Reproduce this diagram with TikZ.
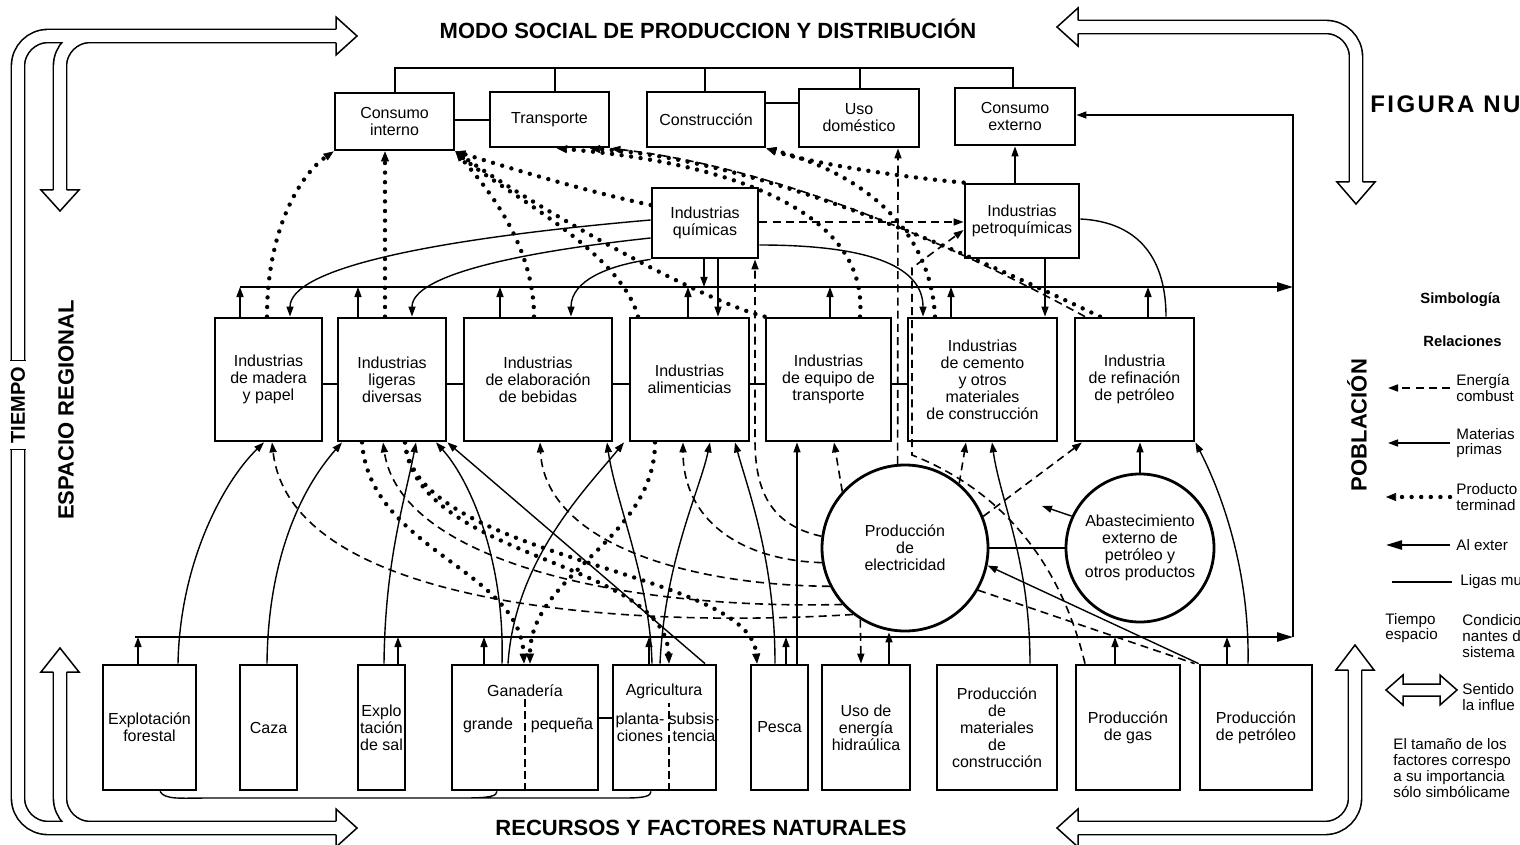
\documentclass[tikz,border=0pt]{standalone}
\usepackage{fontspec}
\setmainfont{Liberation Sans}
\usetikzlibrary{arrows.meta}

\begin{document}
\begin{tikzpicture}[
    x=0.5pt, y=-0.5pt,
    font=\fontsize{8}{8.5}\selectfont,
    box/.style   ={draw, line width=1.4pt, inner sep=0pt, align=center},
    ring/.style  ={draw, circle, line width=1.4pt, inner sep=0pt, align=center},
    lnk/.style   ={line width=0.7pt},
    mp/.style    ={lnk, -{Triangle[length=5pt,width=3.5pt]}},
    enl/.style   ={line width=0.8pt, dash pattern=on 4pt off 2.6pt},
    en/.style    ={enl, -{Triangle[length=5pt,width=3.5pt]}},
    ptl/.style   ={line width=2.2pt, line cap=round, dash pattern=on 0pt off 4.8pt},
    pt/.style    ={ptl, -{Triangle[length=5pt,width=4pt,line width=0.3pt]}},
    ext/.style   ={line width=1pt, -{Triangle[length=8pt,width=4.6pt]}},
    band/.style  ={line width=5.8pt, white, line cap=butt, rounded corners=15pt,
                   preaction={draw, black, line width=7.4pt}},
    head/.style  ={fill=white, draw, line width=0.75pt, line join=miter},
    big/.style   ={font=\bfseries\fontsize{11}{12}\selectfont},
    leg/.style   ={font=\fontsize{7.6}{7.9}\selectfont, align=left, inner sep=0pt},
]
\useasboundingbox (0,0) rectangle (1520,845);

% =============== Influence frame (hollow arrows) ===============
\draw[band] (338,36) -- (18,36) -- (18,828) -- (338,828)
            (60,192) -- (60,36) -- (110,36)
            (60,670) -- (60,828) -- (110,828);
\filldraw[head] (336,29.4) -- (336,17) -- (357,36) -- (336,55) -- (336,42.6);
\filldraw[head] (53.4,190) -- (41,190) -- (60,211) -- (79,190) -- (66.6,190);
\filldraw[head] (53.4,672) -- (41,672) -- (60,648) -- (79,672) -- (66.6,672);
\filldraw[head] (336,821.4) -- (336,809) -- (357,828) -- (336,847) -- (336,834.6);

\draw[band] (1076,27) -- (1356,27) -- (1356,184);
\filldraw[head] (1078,20.4) -- (1078,8) -- (1057,27) -- (1078,46) -- (1078,33.6);
\filldraw[head] (1349.4,182) -- (1337,182) -- (1356,204) -- (1375,182) -- (1362.6,182);

\draw[band] (1076,828) -- (1355,828) -- (1355,668);
\filldraw[head] (1078,821.4) -- (1078,809) -- (1057,828) -- (1078,847) -- (1078,834.6);
\filldraw[head] (1348.4,670) -- (1336,670) -- (1355,645) -- (1374,670) -- (1361.6,670);

\node[rotate=90, fill=white, inner sep=0pt, inner xsep=3pt, minimum height=7.8pt,
      font=\bfseries\fontsize{10}{11}\selectfont] (tiempo) at (18,405) {TIEMPO};
\draw[line width=0.75pt] (tiempo.north east) -- (tiempo.south east)
                         (tiempo.north west) -- (tiempo.south west);

% =============== Frame labels ===============
\node[big] (ttlTop) at (708,29) {MODO SOCIAL DE PRODUCCION Y DISTRIBUCIÓN};
\node[big] (ttlBot) at (701,828) {RECURSOS Y FACTORES NATURALES};
\node[big, rotate=90] (espacio) at (66,410) {ESPACIO REGIONAL};
\node[big, rotate=90] (pobl) at (1357,425) {POBLACIÓN};
\node[font=\bfseries\fontsize{12}{13}\selectfont\addfontfeature{LetterSpace=10},
      anchor=west, inner sep=0pt] (figura) at (1370,104) {FIGURA NU};

% =============== Consumption row ===============
\node[box, minimum width=59.5pt, minimum height=28.5pt] (cint)   at (394.5,121.5) {Consumo\\interno};
\node[box, minimum width=59.5pt, minimum height=27.5pt] (trans)  at (549.5,119.5) {Transporte};
\node[box, minimum width=59pt,   minimum height=27.5pt] (constr) at (706,119.5)   {Construcción};
\node[box, minimum width=60pt,   minimum height=29pt]   (uso)    at (859,118)     {Uso\\doméstico};
\node[box, minimum width=60pt,   minimum height=28.5pt] (cext)   at (1015,116.5)  {Consumo\\externo};

% =============== Chemical industries ===============
\node[box, minimum width=53pt, minimum height=35pt] (quim)  at (705,223)  {Industrias\\químicas};
\node[box, minimum width=57pt, minimum height=37pt] (petro) at (1022,221) {Industrias\\petroquímicas};

% =============== Industry row ===============
\begin{scope}[every node/.append style={minimum height=61.5pt}]
\node[box, minimum width=53.5pt] (mad)   at (268.5,379.5)  {Industrias\\de madera\\y papel};
\node[box, minimum width=54pt]   (lig)   at (392,379.5)    {Industrias\\ligeras\\diversas};
\node[box, minimum width=74pt]   (beb)   at (538,379.5)    {Industrias\\de elaboración\\de bebidas};
\node[box, minimum width=59.5pt] (alim)  at (689.5,379.5)  {Industrias\\alimenticias};
\node[box, minimum width=62.5pt] (equip) at (828.5,379.5)  {Industrias\\de equipo de\\transporte};
\node[box, minimum width=74.5pt] (cem)   at (982.5,379.5)  {Industrias\\de cemento\\y otros\\materiales\\de construcción};
\node[box, minimum width=59.5pt] (refin) at (1134.5,379.5) {Industria\\de refinación\\de petróleo};
\end{scope}

% =============== Energy circles ===============
\node[ring, minimum size=83pt] (elec)  at (905,548)  {Producción\\de\\electricidad};
\node[ring, minimum size=74pt] (abast) at (1140,548) {Abastecimiento\\externo de\\petróleo y\\otros productos};

% =============== Natural resources row ===============
\begin{scope}[every node/.append style={minimum height=62.5pt}]
\node[box, minimum width=46.5pt] (forest) at (149.5,727.5) {Explotación\\forestal};
\node[box, minimum width=28.5pt] (caza)   at (268.5,727.5) {Caza};
\node[box, minimum width=23.5pt] (sal)    at (381.5,727.5) {Explo\\tación\\de sal};
\node[box, minimum width=73pt]   (gan)    at (525,727.5)   {};
\node[box, minimum width=51.5pt] (agr)    at (664.5,727.5) {};
\node[box, minimum width=28.5pt] (pesca)  at (779.5,727.5) {Pesca};
\node[box, minimum width=44pt]   (hidro)  at (866,727.5)   {Uso de\\energía\\hidraúlica};
\node[box, minimum width=60pt]   (mater)  at (997,727.5)   {Producción\\de\\materiales\\de\\construcción};
\node[box, minimum width=52pt]   (gas)    at (1128,727.5)  {Producción\\de gas};
\node[box, minimum width=56pt]   (petrol) at (1256,727.5)  {Producción\\de petróleo};
\end{scope}

\node (ganT) at (525,691) {Ganadería};
\node (ganA) at (488,725) {grande};
\node (ganB) at (562,725) {pequeña};
\node (agrT) at (664,691) {Agricultura};
\node[align=center, inner sep=0pt] (agrA) at (640,727) {planta-\\ciones};
\node[align=center, inner sep=0pt] (agrB) at (694,727) {subsis-\\tencia};
\draw[line width=0.75pt, dash pattern=on 4pt off 2pt] (gan.south -| 525,0) -- ++(0,-92);
\draw[line width=0.75pt, dash pattern=on 4pt off 2pt] (agr.south -| 669,0) -- ++(0,-88);

% =============== Mutual links ===============
\coordinate (tbus) at (395,68);
\draw[lnk] (cint.north -| tbus) -- (tbus) -- (1013,68) -- (cext.north -| 1013,0);
\foreach \n/\x in {trans/555, constr/705, uso/860}{%
  \draw[lnk] (\n.north -| \x,0) -- (tbus -| \x,0);
}
\draw[lnk] (cint.east |- 0,120) -- (trans.west |- 0,120);
\draw[lnk] (constr.east |- 0,103) -- (uso.west |- 0,103);
\foreach \a/\b in {mad/lig, lig/beb, beb/alim, alim/equip, equip/cem}{%
  \draw[lnk] (\a.east |- 0,384) -- (\b.west |- 0,384);
}
\draw[lnk] (gan.east |- 0,718) -- (agr.west |- 0,718);
\draw[lnk] (forest.south -| 160,0) .. controls (165,800) and (180,798) .. (210,798)
           -- (465,798) .. controls (490,798) and (497,796) .. (gan.south -| 497,0)
           (465,798) -- (625,798) .. controls (645,798) and (651,796) .. (agr.south -| 651,0);
\draw[lnk] (elec) -- (abast);

% =============== Buses to the exterior ===============
\coordinate (ubus)  at (240,287);
\coordinate (ubusR) at (1293,287);
\coordinate (lbus)  at (135,637);
\coordinate (lbusR) at (1293,637);
\draw[ext] (ubus) -- (ubusR);
\draw[ext] (lbus) -- (lbusR);
\draw[mp] (lbusR) -- (1293,115) -- (cext.east |- 0,115);

\foreach \n/\x in {mad/240, lig/358, beb/500, alim/688, equip/830, cem/951, refin/1148}{%
  \draw[mp] (\n.north -| \x,0) -- (ubus -| \x,0);
}
\foreach \n/\x in {forest/138, sal/398, gan/484, agr/649, pesca/786, gas/1115, petrol/1227}{%
  \draw[mp] (\n.north -| \x,0) -- (lbus -| \x,0);
}

% =============== Raw materials ===============
\draw[mp] (quim.south -| 704,0) -- (ubus -| 704,0);
\draw[mp] (quim.south -| 718,0) -- (alim.north -| 718,0);
\draw[mp] (petro.south -| 1045,0) -- (cem.north -| 1045,0);
\draw[mp] (petro.north -| 1015,0) -- (cext.south -| 1015,0);
\draw[mp] (quim.west |- 0,220) .. controls (420,240) and (290,270) .. (mad.north -| 290,0);
\draw[mp] (quim.west |- 0,238) .. controls (520,252) and (412,275) .. (lig.north -| 412,0);
\draw[mp] (quim.south west) .. controls (610,265) and (571,280) .. (beb.north -| 571,0);
\draw[mp] (quim.east |- 0,245) .. controls (890,245) and (923,275) .. (cem.north -| 923,0);
\draw[lnk] (petro.east |- 0,219) .. controls (1140,222) and (1166,260) .. (refin.north -| 1166,0);

\draw[mp] (forest.north -| 178,0) .. controls (180,560) and (225,480) .. (mad.south -| 264,0);
\draw[mp] (caza.north -| 267,0) .. controls (268,560) and (300,490) .. (lig.south -| 342,0);
\draw[mp] (sal.north -| 384,0) .. controls (385,560) and (405,500) .. (lig.south -| 416,0);
\draw[mp] (gan.north -| 502,0) .. controls (505,560) and (470,480) .. (lig.south -| 436,0);
\draw[mp] (gan.north -| 508,0) .. controls (515,560) and (585,490) .. (alim.south -| 624,0);
\draw[mp] (agr.north -| 705,0) -- (lig.south east);
\draw[mp] (agr.north -| 652,0) .. controls (650,580) and (615,500) .. (beb.south -| 607,0);
\draw[mp] (agr.north -| 660,0) .. controls (665,560) and (700,490) .. (alim.south -| 710,0);
\draw[mp] (pesca.north -| 775,0) .. controls (775,560) and (748,490) .. (alim.south -| 735,0);
\draw[mp] (pesca.north -| 797,0) -- (equip.south -| 797,0);
\draw[mp] (hidro.north -| 889,0) -- (elec.south -| 889,0);
\draw[mp] (mater.north -| 1030,0) .. controls (1030,560) and (1000,500) .. (cem.south -| 992,0);
\draw[mp] (petrol.north west) -- (elec.-12);
\draw[mp] (petrol.north -| 1248,0) .. controls (1250,560) and (1215,480) .. (refin.south east);
\draw[mp] (abast.north) -- (refin.south -| abast.north);
\coordinate (abpt) at (1042,506);
\draw[mp] (abast.155) -- (abpt);

% =============== Energy and fuels ===============
\draw[en] (quim.east |- 0,222) -- (petro.west |- 0,222);
\draw[en] (elec.172) .. controls (770,525) and (755,490) .. (755,440) -- (quim.south -| 755,0);
\draw[en] (elec.190) .. controls (740,560) and (683,520) .. (alim.south -| 683,0);
\draw[en] (elec.207) .. controls (680,585) and (545,540) .. (beb.south -| 540,0);
\draw[en] (elec.222) .. controls (620,610) and (400,560) .. (lig.south -| 383,0);
\draw[en] (elec.232) .. controls (600,630) and (290,600) .. (mad.south -| 272,0);
\draw[en] (elec.138) -- (equip.south -| 834,0);
\draw[en] (elec.50)  -- (cem.south -| 966,0);
\draw[en] (elec.22)  -- (refin.south -| 1082,0);
\draw[en] (elec.95)  -- (uso.south -| 898,0);
\draw[en] (elec.238) -- (hidro.north -| 861,0);
\draw[enl] (elec.-30) -- ([xshift=-2pt]petrol.north west);
\draw[en] (gas.north -| 1085,0) .. controls (1060,560) and (1000,490) .. (912,455)
          -- (912,268) -- (petro.west |- 0,230);
\draw[en] (refin.north -| 1085,0) .. controls (990,265) and (800,170) .. (trans.south east);

% =============== Finished products ===============
\draw[pt] (mad.north -| 267,0) .. controls (267,230) and (300,175) .. (cint.south west);
\draw[pt] (lig.north -| 385,0) -- (cint.south -| 385,0);
\draw[pt] (beb.north -| 534,0) .. controls (534,240) and (480,180) .. (cint.south east);
\draw[pt] (alim.north -| 638,0) .. controls (620,250) and (500,190) .. (cint.south east);
\draw[pt] (quim.west |- 0,205) .. controls (580,190) and (500,165) .. (cint.south east);
\draw[pt] (equip.north west) .. controls (700,300) and (540,210) .. (cint.south east);
\draw[pt] (equip.north -| 860,0) .. controls (870,200) and (700,160) .. (trans.south -| 557,0);
\draw[pt] (refin.north -| 1100,0) .. controls (960,250) and (760,160) .. (trans.south -| 590,0);
\draw[pt] (cem.north -| 935,0) .. controls (930,220) and (850,170) .. (constr.south east);
\draw[pt] (petro.north west) .. controls (880,175) and (800,160) .. (constr.south east);
\draw[pt] (lig.south -| 362,0) .. controls (370,550) and (520,570) .. (gan.north -| 524,0);
\draw[pt] (alim.south -| 655,0) .. controls (655,540) and (530,575) .. (gan.north -| 530,0);
\draw[pt] (lig.south -| 405,0) .. controls (415,560) and (750,570) .. (pesca.north -| 757,0);
\draw[pt] (lig.south -| 405,0) .. controls (415,560) and (665,560) .. (agr.north -| 669,0);

% =============== Legend ===============
\node[leg, font=\bfseries\fontsize{7.4}{8}\selectfont, anchor=west] (simb) at (1420,300) {Simbología};
\node[leg, font=\bfseries\fontsize{7.4}{8}\selectfont, anchor=west] (rel)  at (1423,341) {Relaciones};
\node[leg, anchor=west] (lgE) at (1456,388) {Energía\\combust};
\node[leg, anchor=west] (lgM) at (1456,443) {Materias\\primas};
\node[leg, anchor=west] (lgP) at (1456,497) {Producto\\terminad};
\node[leg, anchor=west] (lgX) at (1456,545) {Al exter};
\node[leg, anchor=west] (lgL) at (1460,582) {Ligas mu};
\node[leg, anchor=west] (lgT) at (1385,628) {Tiempo\\espacio};
\node[leg, anchor=west] (lgC) at (1462,636) {Condicio\\nantes d\\sistema};
\node[leg, anchor=west] (lgS) at (1462,697) {Sentido\\la influe};
\node[leg, anchor=west] (lgN) at (1393,768) {El tamaño de los\\factores correspo\\a su importancia\\sólo simbólicame};

\draw[en]  ([xshift=-3pt]lgE.west) -- ++(-31pt,0);
\draw[mp]  ([xshift=-3pt]lgM.west) -- ++(-31pt,0);
\draw[pt]  ([xshift=-3pt]lgP.west) -- ++(-32pt,0);
\draw[ext] ([xshift=-3pt]lgX.west) -- ++(-32pt,0);
\draw[lnk] ([xshift=-4pt]lgL.west) -- ++(-30pt,0);
\filldraw[head] (1386,690) -- (1403,675) -- (1403,684) -- (1440,684) -- (1440,675)
                -- (1457,690) -- (1440,705) -- (1440,696) -- (1403,696) -- (1403,705) -- cycle;

\end{tikzpicture}
\end{document}
